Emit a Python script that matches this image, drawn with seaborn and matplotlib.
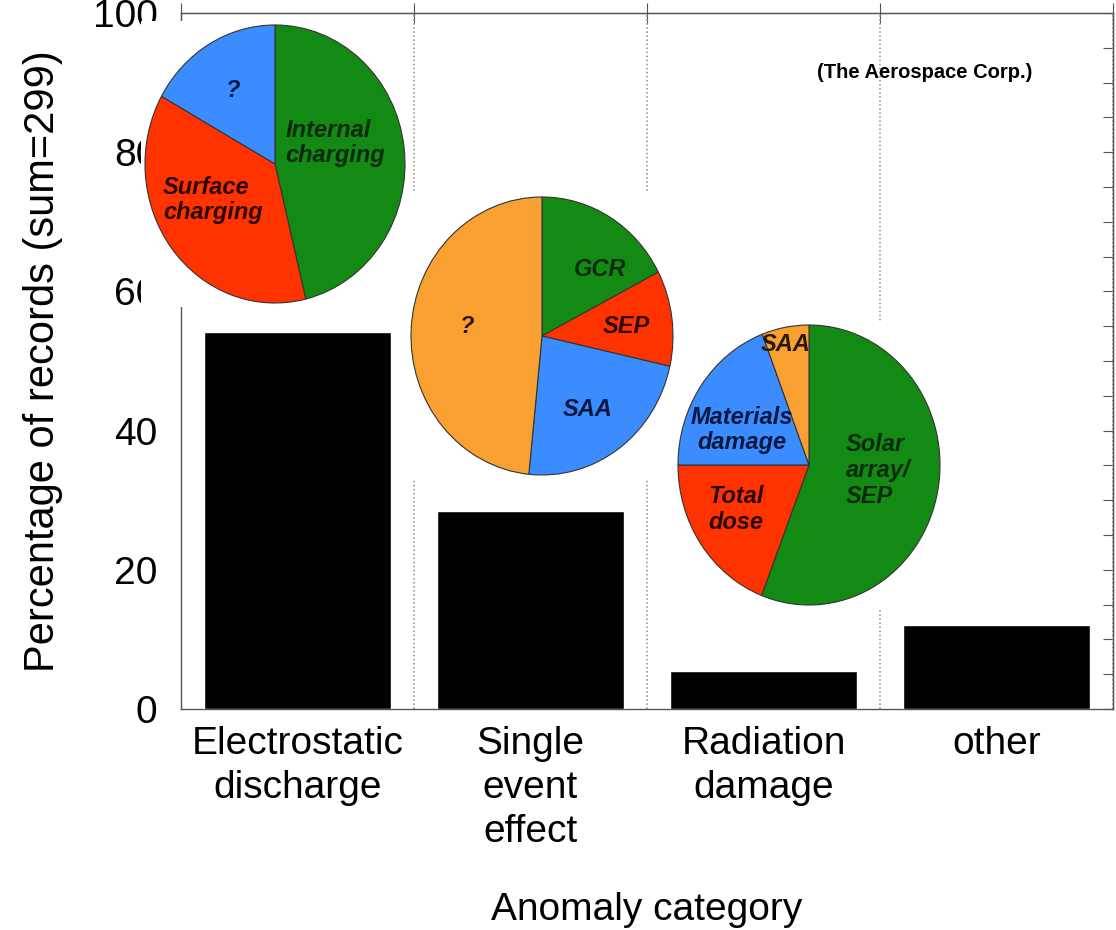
import numpy as np
import matplotlib
matplotlib.use("Agg")
import matplotlib.pyplot as plt
import seaborn as sns

# data
categories = ["Electrostatic\ndischarge", "Single\nevent\neffect",
              "Radiation\ndamage", "other"]
percent = [54.2, 28.4, 5.5, 12.0]

esd_labels = ["Internal\ncharging", "Surface\ncharging", "?"]
esd_share = [46.2, 36.9, 16.9]

see_labels = ["GCR", "SEP", "SAA", "?"]
see_share = [17.4, 11.1, 23.1, 48.4]

rad_labels = ["Solar\narray/\nSEP", "Total\ndose", "Materials\ndamage", "SAA"]
rad_share = [55.9, 19.1, 19.2, 5.8]

GREEN, RED, BLUE, ORANGE = "#138a13", "#ff3300", "#3a8cff", "#f9a032"
TXT = {GREEN: "#0a2a0a", RED: "#2a0800", BLUE: "#0a1840", ORANGE: "#2a1a05"}

sns.set_style("white")
plt.rcParams["font.family"] = ["Liberation Sans", "DejaVu Sans"]
plt.rcParams["text.color"] = "black"
plt.rcParams["axes.labelcolor"] = "black"

W, H = 1116, 930
fig = plt.figure(figsize=(W / 100, H / 100), dpi=100)

def box(left, top, width, height):
    return [left / W, (H - top - height) / H, width / W, height / H]

# main bar axes
ax = fig.add_axes(box(181, 13, 932, 696))
sns.barplot(x=categories, y=percent, color="black", saturation=1,
            width=0.8, ax=ax, zorder=3)
ax.set_xlim(-0.5, 3.5)
ax.set_ylim(0, 100)

spine_col = "#555555"
for s in ax.spines.values():
    s.set_color(spine_col)
    s.set_linewidth(1.0)

bounds = [-0.5, 0.5, 1.5, 2.5, 3.5]
ax.set_xticks(range(4), labels=categories)
ax.set_xticks(bounds, minor=True)
ax.tick_params(axis="x", which="major", length=0, pad=12, labelsize=28,
               labelcolor="black")
for t in ax.get_xticklabels():
    t.set_linespacing(1.3)
ax.tick_params(axis="x", which="minor", length=9, direction="out",
               color=spine_col)
ax.grid(axis="x", which="minor", linestyle=":", color="#8a8a8a", linewidth=1.1)
ax.grid(axis="y", visible=False)
ax.set_axisbelow(True)

ax.set_yticks(np.arange(0, 101, 20))
ax.set_yticks(np.arange(0, 101, 5), minor=True)
ax.tick_params(axis="y", which="major", length=10, direction="out",
               pad=7, labelsize=28, color=spine_col, labelcolor="black")
ax.tick_params(axis="y", which="minor", length=5, direction="out",
               color=spine_col)

ax.set_xlabel("Anomaly category", fontsize=28, labelpad=30)
ax.set_ylabel("Percentage of records (sum=299)", fontsize=30, labelpad=21)

# right and top tick rows
sec_y = ax.secondary_yaxis("right")
sec_y.set_yticks(np.arange(0, 101, 5), labels=[""] * 21)
sec_y.tick_params(direction="in", length=7, color=spine_col)
sec_y.spines["right"].set_color(spine_col)

sec_x = ax.secondary_xaxis("top")
sec_x.set_xticks(bounds, labels=[""] * 5)
sec_x.tick_params(direction="inout", length=14, color=spine_col)
sec_x.spines["top"].set_color(spine_col)

ax.text(0.798, 0.915, "(The Aerospace Corp.)", transform=ax.transAxes,
        ha="center", va="center", fontsize=14.5, fontweight="bold")

# inset pies: centre, radii (pixels) and label spots (pie units)
pies = [
    (esd_share, esd_labels, [GREEN, RED, BLUE], (275, 164, 130, 139),
     [(0.08, 0.15, "left"), (-0.86, -0.26, "left"), (-0.32, 0.53, "center")]),
    (see_share, see_labels, [GREEN, RED, BLUE, ORANGE], (542, 336, 131, 139),
     [(0.44, 0.48, "center"), (0.64, 0.065, "center"),
      (0.35, -0.53, "center"), (-0.57, 0.065, "center")]),
    (rad_share, rad_labels, [GREEN, RED, BLUE, ORANGE], (809, 465, 131, 140),
     [(0.28, -0.04, "left"), (-0.56, -0.32, "center"),
      (-0.51, 0.25, "center"), (-0.18, 0.86, "center")]),
]

pad = 4
for share, labels, cols, (cx, cy, rx, ry), spots in pies:
    pax = fig.add_axes(box(cx - rx - pad, cy - ry - pad,
                           2 * rx + 2 * pad, 2 * ry + 2 * pad))
    wedges, _ = pax.pie(share, colors=cols, startangle=90, counterclock=False,
                        wedgeprops=dict(edgecolor="#333333", linewidth=0.8))
    for w in wedges:
        w.set_clip_on(False)
    pax.set_aspect("auto")
    pax.set_xlim(-1 - pad / rx, 1 + pad / rx)
    pax.set_ylim(-1 - pad / ry, 1 + pad / ry)
    pax.set_frame_on(True)
    for s in pax.spines.values():
        s.set_visible(False)
    pax.patch.set_facecolor("white")
    pax.set_xticks([])
    pax.set_yticks([])
    for lab, col, (tx, ty, ha) in zip(labels, cols, spots):
        pax.text(tx, ty, lab, ha=ha, va="center", fontsize=17,
                 fontweight="bold", fontstyle="italic", color=TXT[col],
                 linespacing=1.15)

fig.savefig("out.png", dpi=100)
